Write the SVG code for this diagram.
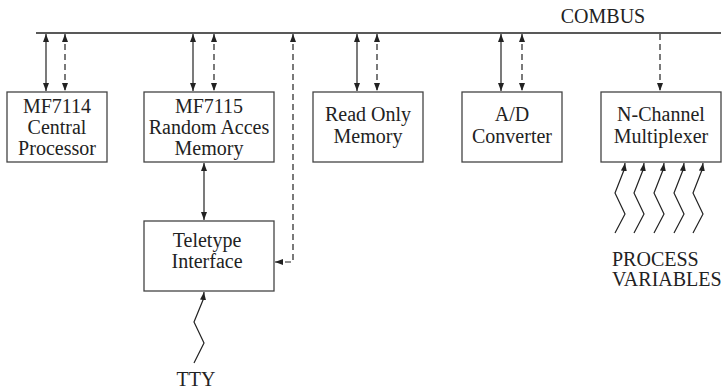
<svg xmlns="http://www.w3.org/2000/svg" width="725" height="391" viewBox="0 0 725 391">
<style>
.box{fill:#fff;stroke:#444;stroke-width:1.3}
.t{font-family:'Liberation Serif',Tinos,'Times New Roman','DejaVu Serif',serif;font-size:20px;fill:#222;text-anchor:middle}
.tl{font-family:'Liberation Serif',Tinos,'Times New Roman','DejaVu Serif',serif;font-size:20px;fill:#222}
.s{fill:none;stroke:#222;stroke-width:1.2}
.d{fill:none;stroke:#222;stroke-width:1.2;stroke-dasharray:6,4}
</style>
<defs>
<marker id="ah" viewBox="0 0 8 8" refX="8" refY="4" markerWidth="8" markerHeight="8" markerUnits="userSpaceOnUse" orient="auto-start-reverse">
<path d="M0,1 L8,4 L0,7 Z" fill="#222"/>
</marker>
</defs>
<rect width="725" height="391" fill="#fff"/>
<g id="combus">
<line x1="36" y1="33" x2="721" y2="33" stroke="#222" stroke-width="1.3"/>
<text class="t" x="603" y="23">COMBUS</text>
</g>
<g id="cpu">
<rect class="box" x="7" y="92" width="100" height="70"/>
<text class="t" x="57" y="113">MF7114</text>
<text class="t" x="57" y="134">Central</text>
<text class="t" x="57" y="155">Processor</text>
</g>
<g id="ram">
<rect class="box" x="144" y="92" width="130" height="70"/>
<text class="t" x="209" y="113">MF7115</text>
<text class="t" x="209" y="134">Random Acces</text>
<text class="t" x="209" y="155">Memory</text>
</g>
<g id="rom">
<rect class="box" x="313" y="92" width="110" height="70"/>
<text class="t" x="368" y="121">Read Only</text>
<text class="t" x="368" y="143">Memory</text>
</g>
<g id="adc">
<rect class="box" x="462" y="92" width="100" height="70"/>
<text class="t" x="512" y="121">A/D</text>
<text class="t" x="512" y="143">Converter</text>
</g>
<g id="mux">
<rect class="box" x="601" y="92" width="120" height="70"/>
<text class="t" x="661" y="121">N-Channel</text>
<text class="t" x="661" y="143">Multiplexer</text>
</g>
<g id="tty">
<rect class="box" x="144" y="221" width="130" height="70"/>
<text class="t" x="207" y="247">Teletype</text>
<text class="t" x="207" y="268">Interface</text>
</g>
<g id="labels">
<text class="t" x="196" y="386">TTY</text>
<text class="tl" x="612" y="266">PROCESS</text>
<text class="tl" x="612" y="286">VARIABLES</text>
</g>
<g id="connectors">
<line class="s" x1="46" y1="34" x2="46" y2="91" marker-start="url(#ah)" marker-end="url(#ah)"/>
<line class="d" x1="65" y1="34" x2="65" y2="91" marker-start="url(#ah)" marker-end="url(#ah)"/>
<line class="s" x1="193" y1="34" x2="193" y2="91" marker-start="url(#ah)" marker-end="url(#ah)"/>
<line class="d" x1="214" y1="34" x2="214" y2="91" marker-start="url(#ah)" marker-end="url(#ah)"/>
<line class="s" x1="357" y1="34" x2="357" y2="91" marker-start="url(#ah)" marker-end="url(#ah)"/>
<line class="d" x1="377" y1="34" x2="377" y2="91" marker-start="url(#ah)" marker-end="url(#ah)"/>
<line class="s" x1="501" y1="34" x2="501" y2="91" marker-start="url(#ah)" marker-end="url(#ah)"/>
<line class="d" x1="522" y1="34" x2="522" y2="91" marker-start="url(#ah)" marker-end="url(#ah)"/>
<line class="d" x1="660" y1="34" x2="660" y2="91" marker-end="url(#ah)"/>
<line class="s" x1="204" y1="163" x2="204" y2="220" marker-start="url(#ah)" marker-end="url(#ah)"/>
<path class="d" d="M293,34 V262 H275" marker-start="url(#ah)" marker-end="url(#ah)"/>
<path class="s" d="M194,363 L204,343 L194,322 L203,300 L204,292" marker-end="url(#ah)"/>
<path class="s" d="M615,233 L625,214 L615,193 L624,170 L625,163" marker-end="url(#ah)"/>
<path class="s" d="M634,233 L644,214 L634,193 L643,170 L644,163" marker-end="url(#ah)"/>
<path class="s" d="M654,233 L664,214 L654,193 L663,170 L664,163" marker-end="url(#ah)"/>
<path class="s" d="M674,233 L684,214 L674,193 L683,170 L684,163" marker-end="url(#ah)"/>
<path class="s" d="M693,233 L703,214 L693,193 L702,170 L703,163" marker-end="url(#ah)"/>
</g>
</svg>
